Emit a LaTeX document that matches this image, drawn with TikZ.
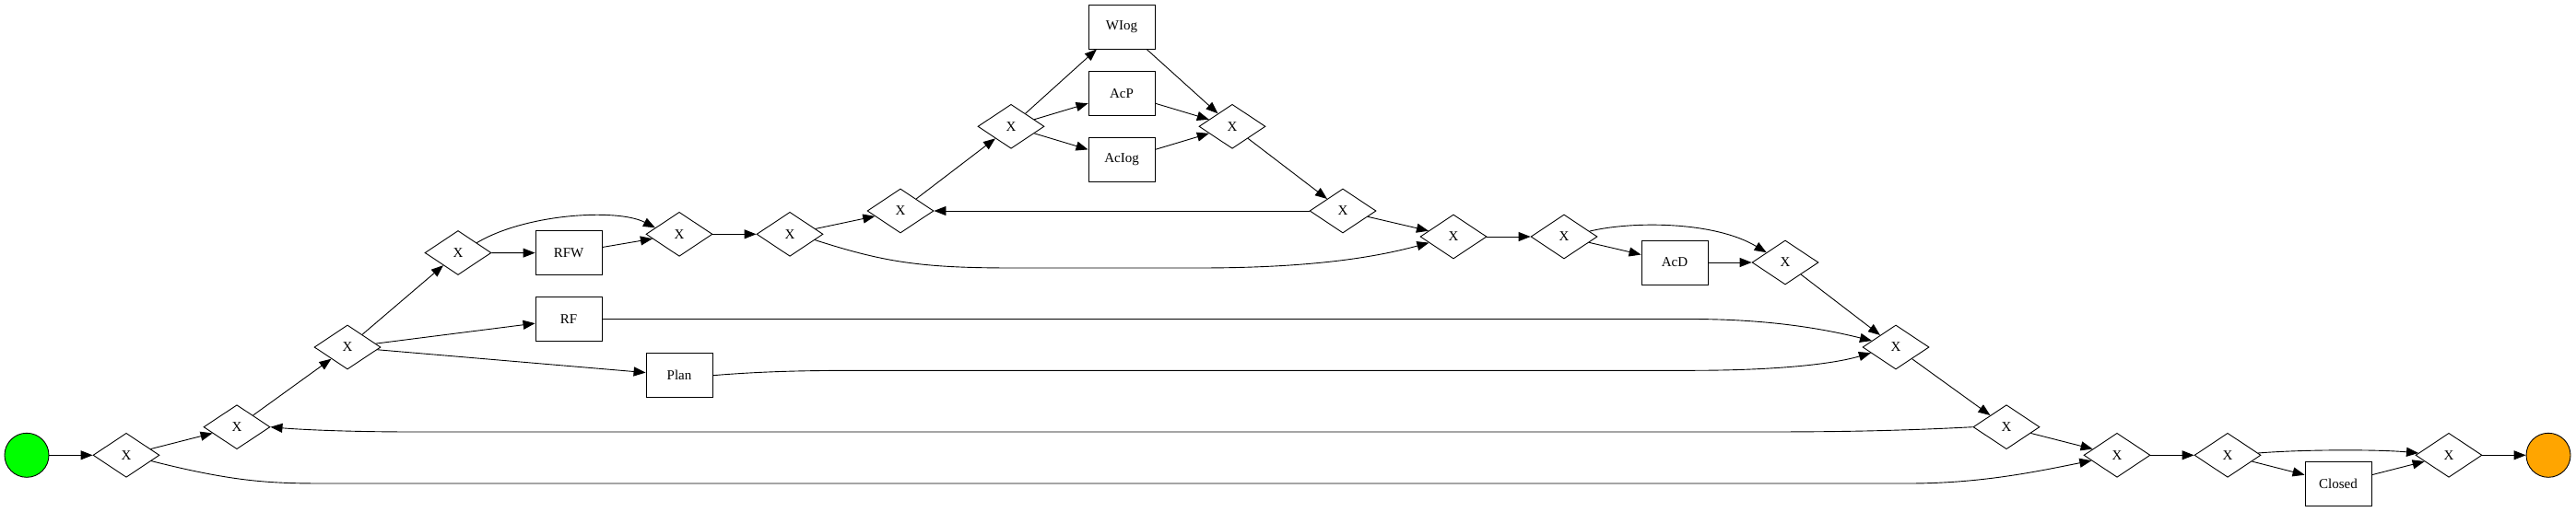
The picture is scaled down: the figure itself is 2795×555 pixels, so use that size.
\documentclass[tikz,border=0pt]{standalone}
\usepackage{fontspec}
\setmainfont{Liberation Serif}
\usepackage{tikz}
\usetikzlibrary{arrows.meta,shapes.geometric}
\definecolor{endorange}{HTML}{FFA500}

\begin{document}
\begin{tikzpicture}[x=1pt,y=-1pt,line width=0.9pt,
    >={Triangle[length=13pt,width=10pt]},
    every node/.style={font=\fontsize{15}{18}\selectfont},
    gate/.style={draw,diamond,aspect=1.5,inner sep=0pt,minimum width=72pt,minimum height=48pt},
    task/.style={draw,rectangle,inner sep=0pt,minimum width=72pt,minimum height=48pt},
    event/.style={draw,circle,inner sep=0pt,minimum size=48pt}]
  \useasboundingbox (0,0) rectangle (2795,555);

  \node[event,fill=green] (start) at (29,494.3) {};
  \node[gate] (g1) at (137,494.3) {X};
  \node[gate] (g2) at (257,463.7) {X};
  \node[gate] (g3) at (377,377) {X};
  \node[gate] (g4) at (497,274.5) {X};
  \node[task] (RFW) at (617,274.7) {RFW};
  \node[task] (RF) at (617,346.5) {RF};
  \node[task] (Plan) at (737,407.7) {Plan};
  \node[gate] (g5) at (737,254.3) {X};
  \node[gate] (g6) at (857,254.3) {X};
  \node[gate] (g7) at (977,229) {X};
  \node[gate] (g8) at (1097,137.3) {X};
  \node[task] (WIog) at (1217,29) {WIog};
  \node[task] (AcP) at (1217,101.3) {AcP};
  \node[task] (AcIog) at (1217,173.3) {AcIog};
  \node[gate] (g9) at (1337,137.3) {X};
  \node[gate] (g10) at (1457,229) {X};
  \node[gate] (g11) at (1577,257) {X};
  \node[gate] (g12) at (1697,257) {X};
  \node[task] (AcD) at (1817,285) {AcD};
  \node[gate] (g13) at (1937,285) {X};
  \node[gate] (g14) at (2057,377) {X};
  \node[gate] (g15) at (2177,463.7) {X};
  \node[gate] (g16) at (2297,494.3) {X};
  \node[gate] (g17) at (2417,494.3) {X};
  \node[task] (Closed) at (2537,525) {Closed};
  \node[gate] (g18) at (2657,494.3) {X};
  \node[event,fill=endorange] (finish) at (2765,494.3) {};

  \draw[->] (start) -- (g1);
  \draw[->] (g1) -- (g2);
  \draw[->] (g1.-13) .. controls (260,525) and (300,525) .. (360,525) -- (2070,525)
    .. controls (2150,525) and (2210,512) .. (g16.-168);
  \draw[->] (g2) -- (g3);
  \draw[->] (g15.west) .. controls (2040,469) and (1960,469) .. (1900,469) -- (450,469)
    .. controls (370,469) and (320,466) .. (g2.east);
  \draw[->] (g3) -- (g4);
  \draw[->] (g3) -- (RF);
  \draw[->] (g3) -- (Plan);
  \draw[->] (g4) -- (RFW);
  \draw[->] (g4.28) .. controls (570,232) and (670,226) .. (g5.165);
  \draw[->] (RFW) -- (g5);
  \draw[->] (g5) -- (g6);
  \draw[->] (g6) -- (g7);
  \draw[->] (g6.-13) .. controls (960,285) and (1000,291) .. (1100,291) -- (1300,291)
    .. controls (1420,291) and (1490,280) .. (g11.-166);
  \draw[->] (g7) -- (g8);
  \draw[->] (g10) -- (g7);
  \draw[->] (g8) -- (WIog);
  \draw[->] (g8) -- (AcP);
  \draw[->] (g8) -- (AcIog);
  \draw[->] (WIog) -- (g9);
  \draw[->] (AcP) -- (g9);
  \draw[->] (AcIog) -- (g9);
  \draw[->] (g9) -- (g10);
  \draw[->] (g10) -- (g11);
  \draw[->] (g11) -- (g12);
  \draw[->] (g12) -- (AcD);
  \draw[->] (g12.12) .. controls (1770,240) and (1860,240) .. (g13.152);
  \draw[->] (AcD) -- (g13);
  \draw[->] (g13) -- (g14);
  \draw[->] (RF) -- (1834,346.5) .. controls (1930,346.5) and (1990,360) .. (g14.165);
  \draw[->] (Plan.east) .. controls (830,403) and (880,402.3) .. (935,402.3) -- (1834,402.3)
    .. controls (1930,402.3) and (1990,395) .. (g14.-167);
  \draw[->] (g14) -- (g15);
  \draw[->] (g15) -- (g16);
  \draw[->] (g16) -- (g17);
  \draw[->] (g17.4) .. controls (2500,488) and (2580,488) .. (g18.176);
  \draw[->] (g17) -- (Closed);
  \draw[->] (Closed) -- (g18);
  \draw[->] (g18) -- (finish);
\end{tikzpicture}
\end{document}
